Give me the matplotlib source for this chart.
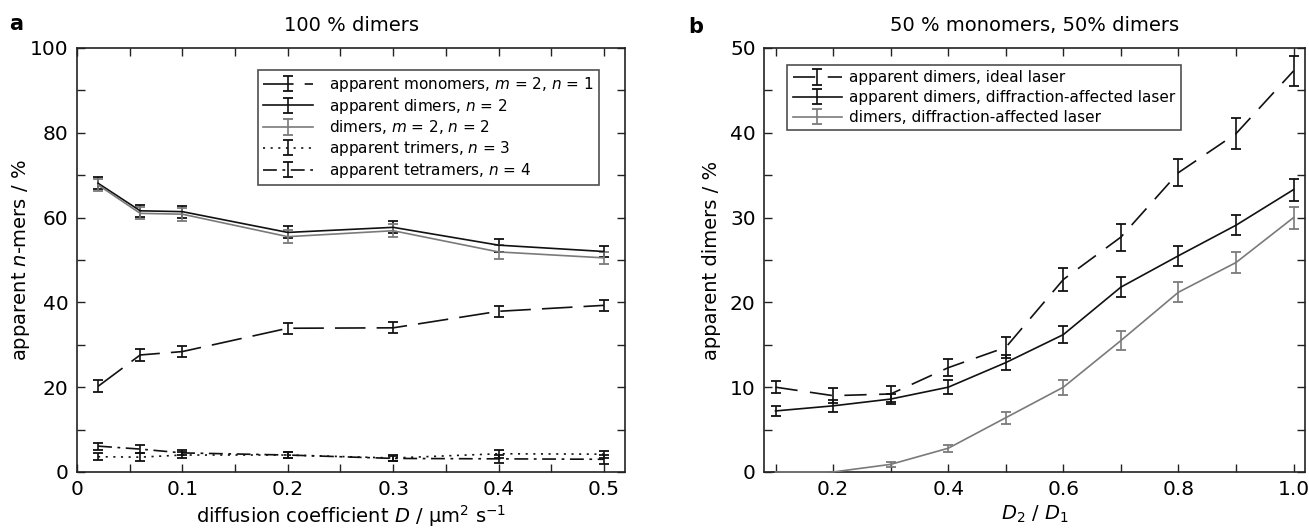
import numpy as np
import matplotlib
matplotlib.use("Agg")
import matplotlib.pyplot as plt
from matplotlib.ticker import MultipleLocator, FuncFormatter

plt.rcParams['font.family'] = 'DejaVu Sans'
plt.rcParams['mathtext.fontset'] = 'dejavusans'
plt.rcParams['lines.scale_dashes'] = False

BLACK = '#111111'
GREY = '#7a7a7a'

# panel a: 100 % dimers
D = [0.02, 0.06, 0.1, 0.2, 0.3, 0.4, 0.5]
app_mono = [20.2, 27.6, 28.4, 33.9, 34.0, 37.9, 39.3]
app_mono_err = [1.4, 1.4, 1.3, 1.3, 1.3, 1.3, 1.3]
app_di = [68.1, 61.6, 61.4, 56.5, 57.7, 53.5, 52.0]
app_di_err = [1.4, 1.4, 1.4, 1.4, 1.4, 1.5, 1.4]
di = [67.7, 61.0, 60.8, 55.5, 56.9, 51.9, 50.5]
di_err = [1.5, 1.4, 1.5, 1.5, 1.5, 1.6, 1.5]
app_tri = [3.6, 3.5, 4.0, 4.0, 3.3, 4.3, 4.2]
app_tri_err = [0.8, 1.0, 0.6, 0.6, 0.6, 0.9, 0.8]
app_tetra = [6.1, 5.4, 4.5, 4.0, 3.2, 3.1, 3.0]
app_tetra_err = [0.8, 0.9, 0.6, 0.6, 0.5, 1.0, 1.0]

# panel b: 50 % monomers, 50 % dimers
ratio = [0.1, 0.2, 0.3, 0.4, 0.5, 0.6, 0.7, 0.8, 0.9, 1.0]
ideal = [10.0, 9.0, 9.2, 12.3, 14.7, 22.7, 27.7, 35.3, 39.9, 47.3]
ideal_err = [0.7, 0.9, 0.9, 1.0, 1.2, 1.4, 1.6, 1.6, 1.8, 1.8]
diffr = [7.2, 7.8, 8.6, 10.0, 12.9, 16.2, 21.8, 25.5, 29.1, 33.3]
diffr_err = [0.6, 0.7, 0.6, 0.8, 0.9, 1.0, 1.2, 1.2, 1.2, 1.3]
diffr_di = [0.0, 0.0, 0.9, 2.8, 6.4, 10.0, 15.5, 21.2, 24.7, 30.0]
diffr_di_err = [0.0, 0.0, 0.3, 0.4, 0.7, 0.9, 1.1, 1.2, 1.2, 1.3]

fig = plt.figure(figsize=(13.09, 5.32), dpi=100)
axa = fig.add_axes([0.0588, 0.1128, 0.4187, 0.797])
axb = fig.add_axes([0.5837, 0.1128, 0.4133, 0.797])

eb = dict(capsize=3.5, capthick=1.3, elinewidth=1.2, lw=1.2)

axa.errorbar(D, app_mono, yerr=app_mono_err, color=BLACK, dashes=(22, 8),
             label='apparent monomers, $m$ = 2, $n$ = 1', **eb)
axa.errorbar(D, app_di, yerr=app_di_err, color=BLACK, ls='-',
             label='apparent dimers, $n$ = 2', **eb)
axa.errorbar(D, di, yerr=di_err, color=GREY, ls='-',
             label='dimers, $m$ = 2, $n$ = 2', **eb)
axa.errorbar(D, app_tri, yerr=app_tri_err, color=BLACK, dashes=(1.5, 4),
             label='apparent trimers, $n$ = 3', **eb)
axa.errorbar(D, app_tetra, yerr=app_tetra_err, color=BLACK, dashes=(10, 4, 2, 4),
             label='apparent tetramers, $n$ = 4', **eb)

axb.errorbar(ratio, ideal, yerr=ideal_err, color=BLACK, dashes=(16, 9),
             label='apparent dimers, ideal laser', **eb)
axb.errorbar(ratio, diffr, yerr=diffr_err, color=BLACK, ls='-',
             label='apparent dimers, diffraction-affected laser', **eb)
gl = axb.errorbar(ratio, diffr_di, yerr=diffr_di_err, color=GREY, ls='-',
                  label='dimers, diffraction-affected laser', **eb)
# the zero values lie on the bottom spine, keep them visible
gl.lines[0].set_clip_on(False)
gl.lines[0].set_zorder(5)

def every_other(step, fmt):
    def f(v, pos):
        if abs(round(v / step) - v / step) < 1e-6:
            return fmt(v)
        return ''
    return FuncFormatter(f)

axa.set_xlim(0, 0.52)
axa.set_ylim(0, 100)
axa.xaxis.set_major_locator(MultipleLocator(0.05))
axa.xaxis.set_major_formatter(every_other(0.1, lambda v: '0' if v < 1e-9 else f'{v:.1f}'))
axa.yaxis.set_major_locator(MultipleLocator(10))
axa.yaxis.set_major_formatter(every_other(20, lambda v: f'{v:.0f}'))
axa.set_xlabel('diffusion coefficient $D$ / µm$^2$ s$^{-1}$', fontsize=14, labelpad=3)
axa.set_ylabel('apparent $n$-mers / %', fontsize=14)
axa.yaxis.set_label_coords(-0.082, 0.5)
axa.set_title('100 % dimers', fontsize=14, pad=12)

axb.set_xlim(0.08, 1.02)
axb.set_ylim(0, 50)
axb.xaxis.set_major_locator(MultipleLocator(0.1))
axb.xaxis.set_major_formatter(every_other(0.2, lambda v: f'{v:.1f}'))
axb.yaxis.set_major_locator(MultipleLocator(5))
axb.yaxis.set_major_formatter(every_other(10, lambda v: f'{v:.0f}'))
axb.set_xlabel('$D_2$ / $D_1$', fontsize=14, labelpad=3)
axb.set_ylabel('apparent dimers / %', fontsize=14)
axb.yaxis.set_label_coords(-0.079, 0.5)
axb.set_title('50 % monomers, 50% dimers', fontsize=14, pad=12)

for ax in (axa, axb):
    ax.tick_params(direction='in', length=6, width=1, top=True, right=True,
                   labelsize=14.5, pad=6, color='#222222')
    for s in ax.spines.values():
        s.set_linewidth(1.2)
        s.set_color('#222222')

leg_kw = dict(fontsize=11, frameon=True, fancybox=False, edgecolor='#222222',
              borderpad=0.35, borderaxespad=0)
la = axa.legend(loc='upper right', bbox_to_anchor=(0.952, 0.949),
                handlelength=3.3, handletextpad=1.0, labelspacing=0.18, **leg_kw)
lb = axb.legend(loc='upper left', bbox_to_anchor=(0.043, 0.96),
                handlelength=3.2, handletextpad=0.5, labelspacing=0.32, **leg_kw)
for lg in (la, lb):
    lg.get_frame().set_linewidth(1.2)

fig.text(0.007, 0.955, 'a', fontsize=15, fontweight='bold', va='center')
fig.text(0.5256, 0.949, 'b', fontsize=15, fontweight='bold', va='center')

fig.savefig('out.png', dpi=100)
